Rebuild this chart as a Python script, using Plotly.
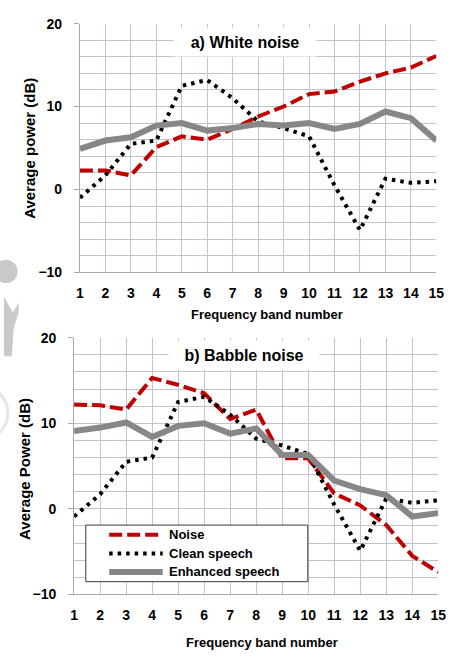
import plotly.graph_objects as go

# Frequency bands and averaged power per band (dB)
bands = list(range(1, 16))
tick_labels = [str(b) for b in bands]

white_noise = [2.3, 2.3, 1.7, 5.1, 6.4, 6.0, 7.3, 8.8, 10.0, 11.5, 11.8, 13.0, 14.0, 14.7, 16.1]
white_clean = [-1.0, 1.7, 5.5, 5.9, 12.5, 13.2, 11.0, 8.2, 7.4, 6.4, 0.5, -4.9, 1.3, 0.8, 1.0]
white_enhanced = [4.9, 5.9, 6.3, 7.7, 8.0, 7.1, 7.4, 7.9, 7.7, 8.0, 7.3, 7.9, 9.4, 8.6, 5.9]

babble_noise = [12.2, 12.1, 11.6, 15.3, 14.5, 13.5, 10.5, 11.6, 5.9, 5.9, 1.8, 0.4, -1.9, -5.5, -7.4]
babble_clean = [-0.9, 1.7, 5.5, 6.0, 12.5, 13.1, 11.0, 8.2, 7.4, 6.4, 0.5, -4.9, 1.2, 0.7, 1.0]
babble_enhanced = [9.1, 9.5, 10.1, 8.4, 9.7, 10.0, 8.8, 9.4, 6.3, 6.3, 3.3, 2.3, 1.6, -0.9, -0.5]

series_names = ["Noise", "Clean speech", "Enhanced speech"]

W, H = 457, 657
FONT = "Liberation Sans, Arial, sans-serif"
RED = "#c00000"
GREY = "#878787"
STYLES = {
    "Noise": dict(color=RED, width=4, dash="13px,5px"),
    "Clean speech": dict(color="#000000", width=4, dash="3.5px,5px"),
    "Enhanced speech": dict(color=GREY, width=6),
}


def px_x(p):
    return p / W


def px_y(p):
    return 1 - p / H


fig = go.Figure()

panels = [
    ("x", "y", [white_noise, white_clean, white_enhanced]),
    ("x2", "y2", [babble_noise, babble_clean, babble_enhanced]),
]
for xa, ya, data in panels:
    for name, vals in zip(series_names, data):
        fig.add_trace(go.Scatter(
            x=bands, y=vals, name=name, mode="lines",
            line=STYLES[name], xaxis=xa, yaxis=ya, showlegend=False,
        ))

tickfont = dict(family=FONT, size=14, color="#000000", weight="bold")

xcommon = dict(
    range=[1, 15], tickmode="array", tickvals=bands, ticktext=tick_labels,
    showgrid=True, gridcolor="#b9c5e2", gridwidth=1,
    showline=True, linecolor="#a9a9a9", linewidth=1,
    ticks="", tickfont=tickfont, ticklabelstandoff=8, zeroline=False,
)
ycommon = dict(
    range=[-10, 20], tick0=-10, dtick=10,
    showgrid=True, gridcolor="#c3c3c3", gridwidth=1,
    minor=dict(dtick=2, showgrid=True, gridcolor="#c3c3c3", gridwidth=1),
    showline=True, linecolor="#a9a9a9", linewidth=1,
    ticks="outside", ticklen=5, tickcolor="#a9a9a9",
    tickfont=tickfont, ticklabelstandoff=9, zeroline=False,
)

fig.update_layout(
    width=W, height=H,
    margin=dict(l=0, r=0, t=0, b=0),
    paper_bgcolor="white", plot_bgcolor="white",
    showlegend=False,
    xaxis=dict(domain=[px_x(78), px_x(444)], anchor="y", **xcommon),
    yaxis=dict(domain=[px_y(271), px_y(16)], anchor="x", **ycommon),
    xaxis2=dict(domain=[px_x(72), px_x(446)], anchor="y2", **xcommon),
    yaxis2=dict(domain=[px_y(601), px_y(338)], anchor="x2", **ycommon),
)

annotations = []


def text(s, x, y, size, angle=0, **kw):
    annotations.append(dict(
        text=s, x=px_x(x), y=px_y(y), xref="paper", yref="paper",
        showarrow=False, textangle=angle, xanchor="center", yanchor="middle",
        font=dict(family=FONT, size=size, color="#000000", weight="bold"), **kw,
    ))


# axis titles
text("Average power (dB)", 26, 144, 15, angle=-90)
text("Average Power (dB)", 21, 472, 15, angle=-90)
text("Frequency band number", 270, 314, 13)
text("Frequency band number", 265, 650, 13)

# panel titles on white boxes
text("a) White noise", 247, 35, 16, bgcolor="white", width=140, height=26)
text("b) Babble noise", 246, 356, 16, bgcolor="white", width=148, height=26)

# legend labels
legend_rows = [540, 559, 578]
for name, yy in zip(series_names, legend_rows):
    annotations.append(dict(
        text=name, x=px_x(167), y=px_y(yy), xref="paper", yref="paper",
        showarrow=False, xanchor="left", yanchor="middle",
        font=dict(family=FONT, size=13, color="#000000", weight="bold"),
    ))

fig.update_layout(annotations=annotations)

shapes = [
    # legend frame
    dict(type="rect", xref="paper", yref="paper",
         x0=px_x(84), x1=px_x(312), y0=px_y(588), y1=px_y(530),
         fillcolor="white", line=dict(color="#3a3a3a", width=1), layer="above"),
]
for name, yy in zip(series_names, legend_rows):
    st = STYLES[name]
    shapes.append(dict(
        type="line", xref="paper", yref="paper",
        x0=px_x(108), x1=px_x(163), y0=px_y(yy), y1=px_y(yy),
        line=dict(color=st["color"], width=st["width"], dash=st.get("dash", "solid")),
        layer="above",
    ))

# faint emblem at the left edge
shapes.append(dict(type="circle", xref="paper", yref="paper",
                   x0=px_x(-10), x1=px_x(14), y0=px_y(282), y1=px_y(258),
                   fillcolor="#c9c9c9", line=dict(width=0), layer="below"))
shapes.append(dict(type="path", xref="paper", yref="paper",
                   path=" ".join([
                       f"M{px_x(0)},{px_y(296)}", f"L{px_x(9)},{px_y(312)}",
                       f"L{px_x(15)},{px_y(302)}", f"L{px_x(15)},{px_y(312)}",
                       f"L{px_x(10)},{px_y(328)}", f"L{px_x(8)},{px_y(357)}",
                       f"L{px_x(0)},{px_y(357)}", "Z"]),
                   fillcolor="#c9c9c9", line=dict(width=0), layer="below"))
shapes.append(dict(type="circle", xref="paper", yref="paper",
                   x0=px_x(-40), x1=px_x(4), y0=px_y(440), y1=px_y(390),
                   fillcolor="rgba(0,0,0,0)", line=dict(color="#e6e6e6", width=3),
                   layer="below"))

fig.update_layout(shapes=shapes)

fig.write_html("out.html")
